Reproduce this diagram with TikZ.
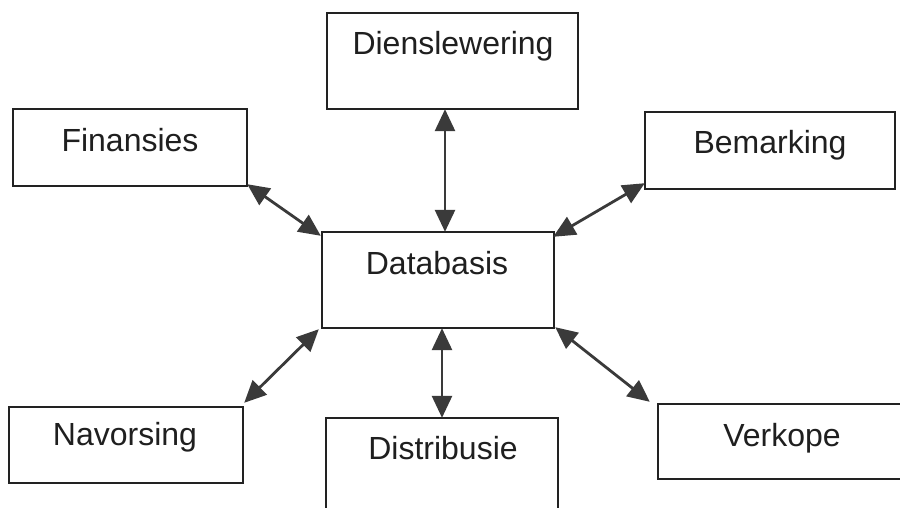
\documentclass[tikz,border=0pt]{standalone}
\usepackage{fontspec}
\setmainfont{Liberation Sans}
\usetikzlibrary{arrows.meta}
\definecolor{boxline}{HTML}{222222}
\definecolor{arrowgray}{HTML}{3A3A3A}
\begin{document}
\begin{tikzpicture}[x=1pt,y=-1pt,
  unitbox/.style={draw=boxline, line width=2pt},
  frame/.style={draw=none, inner sep=0pt},
  lbl/.style={anchor=base, inner sep=0pt, font=\fontsize{32}{36}\selectfont, text=black!88},
  link/.style={draw=arrowgray, line width=2.8pt,
    {Triangle[length=22pt,width=20pt]}-{Triangle[length=22pt,width=20pt]}}]
  \clip (0,0) rectangle (900,508);
  \fill[white] (0,0) rectangle (900,508);

  % boxes (the lower middle and lower right ones run off the page)
  \node[frame, minimum width=251pt, minimum height=96pt] (dien) at (452.5,61) {};
  \node[frame, minimum width=234pt, minimum height=77pt] (fin) at (130,147.5) {};
  \node[frame, minimum width=250pt, minimum height=77pt] (bem) at (770,150.5) {};
  \node[frame, minimum width=232pt, minimum height=96pt] (db) at (438,280) {};
  \node[frame, minimum width=234pt, minimum height=76pt] (nav) at (126,445) {};
  \node[frame, minimum width=232pt, minimum height=112pt] (dis) at (442,474) {};
  \node[frame, minimum width=252pt, minimum height=75pt] (ver) at (784,441.5) {};

  \foreach \b in {dien,fin,bem,db,nav,dis,ver}
    \draw[unitbox] (\b.north west) rectangle (\b.south east);

  % labels, set near the top of each box
  \node[lbl] (dient) at (453,55) {Dienslewering};
  \node[lbl] (fint) at (130,152) {Finansies};
  \node[lbl] (bemt) at (770,154) {Bemarking};
  \node[lbl] (dbt) at (437,274) {Databasis};
  \node[lbl] (navt) at (125,445) {Navorsing};
  \node[lbl] (dist) at (443,459) {Distribusie};
  \node[lbl] (vert) at (782,446) {Verkope};

  % arrow end points on the boxes
  \coordinate (dienA) at ([xshift=-7.5pt]dien.south);
  \coordinate (dbTop) at ([xshift=7pt]db.north);
  \coordinate (dbBot) at ([xshift=4pt]db.south);
  \coordinate (disA) at (dis.north);
  \coordinate (finA) at ([yshift=2pt]fin.south east);
  \coordinate (dbNW) at ([xshift=-1pt,yshift=-4pt]db.north west);
  \coordinate (bemA) at ([yshift=6pt]bem.south west);
  \coordinate (dbNE) at ([xshift=-1pt,yshift=-5pt]db.north east);
  \coordinate (navA) at ([xshift=1pt,yshift=4pt]nav.north east);
  \coordinate (dbSW) at ([xshift=-3pt,yshift=-1pt]db.south west);
  \coordinate (verA) at ([xshift=-8pt,yshift=2pt]ver.north west);
  \coordinate (dbSE) at ([xshift=1pt,yshift=1pt]db.south east);

  % two-way connectors to the central database
  \draw[link] (dienA) -- (dbTop);
  \draw[link] (dbBot) -- (disA);
  \draw[link] (finA) -- (dbNW);
  \draw[link] (bemA) -- (dbNE);
  \draw[link] (navA) -- (dbSW);
  \draw[link] (verA) -- (dbSE);
\end{tikzpicture}
\end{document}
